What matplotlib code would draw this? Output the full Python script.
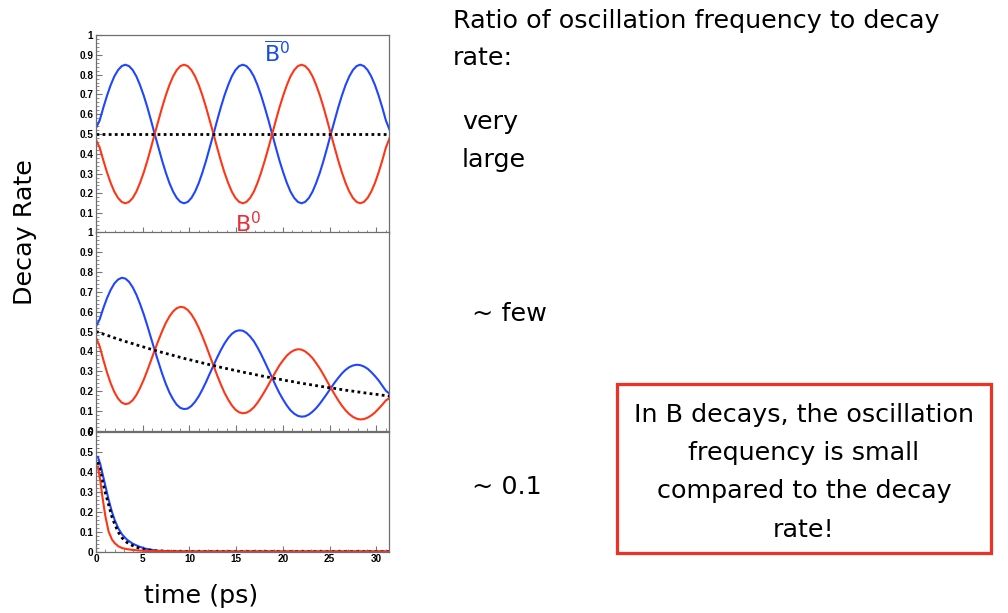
import matplotlib
matplotlib.use("Agg")
import matplotlib.pyplot as plt
from matplotlib.patches import Rectangle

# ---------------- data ----------------
time_ps = [0.00, 0.39, 0.79, 1.18, 1.57, 1.96, 2.36, 2.75, 3.14, 3.53,
           3.93, 4.32, 4.71, 5.11, 5.50, 5.89, 6.28, 6.68, 7.07, 7.46,
           7.85, 8.25, 8.64, 9.03, 9.42, 9.82, 10.21, 10.60, 11.00, 11.39,
           11.78, 12.17, 12.57, 12.96, 13.35, 13.74, 14.14, 14.53, 14.92, 15.32,
           15.71, 16.10, 16.49, 16.89, 17.28, 17.67, 18.06, 18.46, 18.85, 19.24,
           19.63, 20.03, 20.42, 20.81, 21.21, 21.60, 21.99, 22.38, 22.78, 23.17,
           23.56, 23.96, 24.35, 24.74, 25.13, 25.53, 25.92, 26.31, 26.70, 27.10,
           27.49, 27.88, 28.27, 28.67, 29.06, 29.45, 29.85, 30.24, 30.63, 31.02,
           31.42]

# panel 1: ratio very large (no visible decay)
bbar_large = [0.530, 0.568, 0.634, 0.694, 0.747, 0.791, 0.823, 0.843, 0.850, 0.843,
              0.823, 0.791, 0.747, 0.694, 0.634, 0.568, 0.500, 0.432, 0.366, 0.306,
              0.253, 0.209, 0.177, 0.157, 0.150, 0.157, 0.177, 0.209, 0.253, 0.306,
              0.366, 0.432, 0.500, 0.568, 0.634, 0.694, 0.747, 0.791, 0.823, 0.843,
              0.850, 0.843, 0.823, 0.791, 0.747, 0.694, 0.634, 0.568, 0.500, 0.432,
              0.366, 0.306, 0.253, 0.209, 0.177, 0.157, 0.150, 0.157, 0.177, 0.209,
              0.253, 0.306, 0.366, 0.432, 0.500, 0.568, 0.634, 0.694, 0.747, 0.791,
              0.823, 0.843, 0.850, 0.843, 0.823, 0.791, 0.747, 0.694, 0.634, 0.568,
              0.520]
b_large = [0.470, 0.432, 0.366, 0.306, 0.253, 0.209, 0.177, 0.157, 0.150, 0.157,
           0.177, 0.209, 0.253, 0.306, 0.366, 0.432, 0.500, 0.568, 0.634, 0.694,
           0.747, 0.791, 0.823, 0.843, 0.850, 0.843, 0.823, 0.791, 0.747, 0.694,
           0.634, 0.568, 0.500, 0.432, 0.366, 0.306, 0.253, 0.209, 0.177, 0.157,
           0.150, 0.157, 0.177, 0.209, 0.253, 0.306, 0.366, 0.432, 0.500, 0.568,
           0.634, 0.694, 0.747, 0.791, 0.823, 0.843, 0.850, 0.843, 0.823, 0.791,
           0.747, 0.694, 0.634, 0.568, 0.500, 0.432, 0.366, 0.306, 0.253, 0.209,
           0.177, 0.157, 0.150, 0.157, 0.177, 0.209, 0.253, 0.306, 0.366, 0.432,
           0.480]
avg_large = 0.5

# panel 2: ratio ~ few
bbar_few = [0.525, 0.561, 0.618, 0.668, 0.709, 0.741, 0.761, 0.770, 0.766, 0.750,
            0.722, 0.685, 0.639, 0.586, 0.528, 0.467, 0.406, 0.346, 0.289, 0.238,
            0.194, 0.159, 0.132, 0.116, 0.110, 0.113, 0.126, 0.147, 0.175, 0.209,
            0.247, 0.288, 0.329, 0.369, 0.406, 0.439, 0.467, 0.488, 0.501, 0.506,
            0.504, 0.493, 0.475, 0.451, 0.420, 0.385, 0.347, 0.307, 0.267, 0.227,
            0.190, 0.157, 0.128, 0.104, 0.087, 0.076, 0.072, 0.074, 0.083, 0.097,
            0.115, 0.138, 0.163, 0.189, 0.216, 0.243, 0.267, 0.289, 0.307, 0.321,
            0.329, 0.333, 0.331, 0.324, 0.313, 0.296, 0.276, 0.254, 0.228, 0.202,
            0.187]
b_few = [0.470, 0.426, 0.357, 0.294, 0.240, 0.196, 0.163, 0.143, 0.135, 0.139,
         0.155, 0.181, 0.216, 0.258, 0.305, 0.355, 0.406, 0.455, 0.501, 0.542,
         0.575, 0.601, 0.617, 0.624, 0.621, 0.608, 0.586, 0.556, 0.518, 0.475,
         0.428, 0.379, 0.329, 0.280, 0.235, 0.193, 0.158, 0.129, 0.107, 0.094,
         0.089, 0.092, 0.102, 0.119, 0.142, 0.170, 0.200, 0.233, 0.267, 0.299,
         0.330, 0.356, 0.379, 0.395, 0.406, 0.411, 0.409, 0.400, 0.385, 0.366,
         0.341, 0.313, 0.282, 0.249, 0.216, 0.184, 0.154, 0.127, 0.104, 0.085,
         0.071, 0.062, 0.058, 0.060, 0.067, 0.078, 0.093, 0.112, 0.132, 0.154,
         0.165]
avg_few = [0.500, 0.494, 0.487, 0.481, 0.475, 0.468, 0.462, 0.456, 0.450, 0.444,
           0.439, 0.433, 0.427, 0.422, 0.416, 0.411, 0.406, 0.400, 0.395, 0.390,
           0.385, 0.380, 0.375, 0.370, 0.365, 0.360, 0.356, 0.351, 0.347, 0.342,
           0.338, 0.333, 0.329, 0.325, 0.320, 0.316, 0.312, 0.308, 0.304, 0.300,
           0.296, 0.292, 0.289, 0.285, 0.281, 0.277, 0.274, 0.270, 0.267, 0.263,
           0.260, 0.257, 0.253, 0.250, 0.247, 0.243, 0.240, 0.237, 0.234, 0.231,
           0.228, 0.225, 0.222, 0.219, 0.216, 0.214, 0.211, 0.208, 0.205, 0.203,
           0.200, 0.197, 0.195, 0.192, 0.190, 0.187, 0.185, 0.183, 0.180, 0.178,
           0.175]

# panel 3: ratio ~ 0.1
time_small = [0.2, 0.45, 0.7, 1.0, 1.35, 1.7, 2.0, 2.4, 2.8, 3.3, 3.9, 4.6, 5.3,
              6.5, 8.0, 10.0, 20.0, 31.4]
bbar_small = [0.475, 0.440, 0.390, 0.330, 0.260, 0.200, 0.158, 0.115, 0.085, 0.060,
              0.040, 0.025, 0.014, 0.004, 0.001, 0.0, 0.0, 0.0]
b_small = [0.427, 0.358, 0.270, 0.178, 0.100, 0.061, 0.042, 0.026, 0.017, 0.012,
           0.008, 0.005, 0.003, 0.002, 0.001, 0.0, 0.0, 0.0]
avg_small = [0.450, 0.410, 0.350, 0.295, 0.235, 0.175, 0.137, 0.096, 0.068, 0.046,
             0.030, 0.017, 0.009, 0.003, 0.001, 0.0, 0.0, 0.0]

x_ticks = [0, 5, 10, 15, 20, 25, 30]
y_ticks_full = [0, 0.1, 0.2, 0.3, 0.4, 0.5, 0.6, 0.7, 0.8, 0.9, 1.0]
y_ticks_small = [0, 0.1, 0.2, 0.3, 0.4, 0.5, 0.6]

ratio_labels = ["very\nlarge", "~ few", "~ 0.1"]

# ---------------- layout ----------------
W, H = 1008, 613
fig = plt.figure(figsize=(W / 100, H / 100), dpi=100)
fig.patch.set_facecolor("white")


def fx(px):
    return px / W


def fy(py):
    return 1 - py / H


def panel(top, bottom):
    return fig.add_axes([fx(96), fy(bottom), (389 - 96) / W, (bottom - top) / H])


BLUE = "#1f45ff"
RED = "#ff3515"
SPINE = "#6e6e6e"
TICKFONT = dict(family="Liberation Sans", weight="bold", size=7.2)


def style(ax, yticks, ymax, xlabels=False, hide_zero=False):
    ax.set_xlim(0, 31.35)
    ax.set_ylim(0, ymax)
    ax.set_xticks(x_ticks)
    ax.set_xticks([v for v in range(0, 32) if v % 5 != 0], minor=True)
    ylabels = []
    for v in yticks:
        s = f"{round(v, 2):g}"
        if hide_zero and v == 0:
            s = ""
        ylabels.append(s)
    ax.set_yticks(yticks, ylabels, **TICKFONT)
    minors = [round(i * 0.02, 2) for i in range(0, int(round(ymax / 0.02)) + 1)]
    ax.set_yticks([m for m in minors if round(m * 10, 6) != round(m * 10)], minor=True)
    if xlabels:
        ax.set_xticks(x_ticks, [str(v) for v in x_ticks], **TICKFONT)
    else:
        ax.tick_params(labelbottom=False)
    ax.tick_params(which="both", direction="in", top=False, right=False,
                   color="#777777", labelcolor="black")
    ax.tick_params(which="major", length=4.5, width=0.8, pad=2)
    ax.tick_params(which="minor", length=2.5, width=0.6)
    for s in ax.spines.values():
        s.set_color(SPINE)
        s.set_linewidth(0.9)


ax1 = panel(35, 233)
ax2 = panel(232, 431)
ax3 = panel(432, 551.5)

LW = 1.5
DOT = dict(color="black", lw=2.0, linestyle=(0, (1.0, 1.2)))

# panel 1
ax1.plot(time_ps, bbar_large, color=BLUE, lw=LW)
ax1.plot(time_ps, b_large, color=RED, lw=LW)
ax1.axhline(avg_large, **DOT)
style(ax1, y_ticks_full, 1.0, hide_zero=True)
ax1.text(0.572, 0.862, r"$\overline{\mathrm{B}}^{0}$", transform=ax1.transAxes,
         color="#1a4bef", fontsize=16, ha="left", va="baseline", clip_on=False)
ax1.text(0.474, 0.005, r"$\mathrm{B}^{0}$", transform=ax1.transAxes,
         color="#e8303c", fontsize=16, ha="left", va="baseline", clip_on=False)

# panel 2
ax2.plot(time_ps, bbar_few, color=BLUE, lw=LW)
ax2.plot(time_ps, b_few, color=RED, lw=LW)
ax2.plot(time_ps, avg_few, **DOT)
style(ax2, y_ticks_full, 1.0)

# panel 3
ax3.plot(time_small, bbar_small, color=BLUE, lw=LW)
ax3.plot(time_small, avg_small, **DOT)
ax3.plot(time_small, b_small, color=RED, lw=LW)
style(ax3, y_ticks_small, 0.6, xlabels=True)

# axis titles
FS = 18.3
TXT = dict(family="DejaVu Sans", color="black")
fig.text(fx(25), fy(232), "Decay Rate", rotation=90, ha="center", va="center",
         fontsize=FS, **TXT)
fig.text(fx(201), fy(596), "time (ps)", ha="center", va="center", fontsize=FS, **TXT)

# right-hand annotations
fig.text(fx(453), fy(28.3), "Ratio of oscillation frequency to decay",
         ha="left", va="baseline", fontsize=FS, **TXT)
fig.text(fx(453), fy(65), "rate:", ha="left", va="baseline", fontsize=FS, **TXT)
very, large = ratio_labels[0].split("\n")
fig.text(fx(462), fy(129), very, ha="left", va="baseline", fontsize=FS, **TXT)
fig.text(fx(462), fy(166.7), large, ha="left", va="baseline", fontsize=FS, **TXT)
fig.text(fx(472), fy(321), ratio_labels[1], ha="left", va="baseline", fontsize=FS, **TXT)
fig.text(fx(472), fy(494), ratio_labels[2], ha="left", va="baseline", fontsize=FS, **TXT)

box = Rectangle((fx(617), fy(552.5)), (991 - 617) / W, (552.5 - 384) / H,
                transform=fig.transFigure, fill=False, edgecolor="#ee3124", lw=2.3)
fig.patches.append(box)
box_lines = ["In B decays, the oscillation", "frequency is small",
             "compared to the decay", "rate!"]
for line, base in zip(box_lines, [421.7, 460, 498, 536.7]):
    fig.text(fx(804), fy(base), line, ha="center", va="baseline", fontsize=FS, **TXT)

fig.savefig("out.png", dpi=100, facecolor="white")
